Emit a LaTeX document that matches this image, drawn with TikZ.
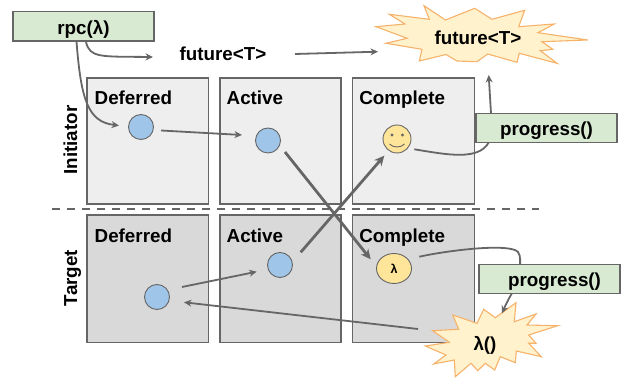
\documentclass[tikz,border=0pt]{standalone}
\usepackage{fontspec}
\setmainfont{Liberation Sans}
\usetikzlibrary{arrows.meta,shapes.geometric}
\definecolor{edge}{HTML}{666666}
\definecolor{topfill}{HTML}{EEEEEE}
\definecolor{botfill}{HTML}{D9D9D9}
\definecolor{greenfill}{HTML}{D9EAD3}
\definecolor{bluefill}{HTML}{9FC5E8}
\definecolor{yellowfill}{HTML}{FFE599}
\definecolor{starfill}{HTML}{FFF2CC}
\definecolor{starline}{HTML}{F6B26B}
\tikzset{
  lab/.style={font=\fontsize{18.8}{20}\selectfont\bfseries, inner sep=0pt, anchor=base, text=black},
  statelab/.style={lab, anchor=base west},
  sidelab/.style={lab, rotate=90},
  cellbox/.style={draw=edge, line width=1.1pt},
  topcell/.style={cellbox, fill=topfill},
  botcell/.style={cellbox, fill=botfill},
  callbox/.style={lab, draw=edge, line width=1.1pt, fill=greenfill, minimum width=141pt, text height=22.5pt, text depth=6.8pt},
  dot/.style={circle, draw=edge, line width=0.9pt, fill=bluefill, minimum size=25pt, inner sep=0pt},
  burst/.style={draw=starline, line width=1.1pt, fill=starfill, line join=miter},
  conn/.style={draw=edge, line width=1.8pt, -{Stealth[length=7.5pt,width=7pt]}},
  heavyconn/.style={draw=edge, line width=2.8pt, -{Stealth[length=10pt,width=9.5pt]}},
}
\begin{document}
\begin{tikzpicture}[x=1pt,y=-1pt]
\useasboundingbox (0,0) rectangle (624,379);
% state boxes
\draw[topcell] (87,78) rectangle (208.5,204);
\draw[topcell] (220,78) rectangle (341,204);
\draw[topcell] (352.7,78) rectangle (474.7,204);
\draw[botcell] (87,215) rectangle (208.5,342.5);
\draw[botcell] (220,215) rectangle (341,342.5);
\draw[botcell] (352.7,215) rectangle (474.7,342.5);
% separator
\coordinate (sepL) at (52,209);
\coordinate (sepR) at (539,209);
\draw[edge, line width=1.4pt, dash pattern=on 7.5pt off 7.5pt] (sepL) -- (sepR);
% labels
\node[statelab] (l1) at (94.5,104.7) {Deferred};
\node[statelab] (l2) at (226.5,104.7) {Active};
\node[statelab] (l3) at (359.2,104.7) {Complete};
\node[statelab] (l4) at (94.5,242.7) {Deferred};
\node[statelab] (l5) at (226.5,242.7) {Active};
\node[statelab] (l6) at (359.2,242.7) {Complete};
\node[sidelab] (ini) at (77,140) {Initiator};
\node[sidelab] (tar) at (77,278) {Target};
% state markers
\node[dot] (d1) at (141,127) {};
\node[dot] (a1) at (268,140.5) {};
\node[dot, fill=yellowfill, minimum size=28pt] (smile) at (397,139) {};
\fill[edge] ([shift={(-5,-4)}]smile.center) circle (1.7pt) ([shift={(5.5,-4)}]smile.center) circle (1.7pt);
\draw[edge, line width=0.9pt] ([shift={(-7.5,5)}]smile.center) .. controls ([shift={(-4,9)}]smile.center) and ([shift={(4,9)}]smile.center) .. ([shift={(7.5,5)}]smile.center);
\node[dot] (d2) at (157,297) {};
\node[dot] (a2) at (280,265) {};
\node[ellipse, draw=edge, line width=0.9pt, fill=yellowfill, minimum width=35pt, minimum height=30pt, inner sep=0pt, font=\fontsize{12.5}{14}\selectfont\bfseries] (lam) at (394,268.5) {λ};
% bursts
\draw[burst] (376,26.7)--(405,24)--(389.3,14.3)--(429.3,19.3)--(424,5.7)--(445.5,20)--(474.7,8.3)--(492,19.3)--(524.7,10.3)--(518.7,26.7)--(554.3,24)--(538,32.7)--(587.7,40)--(542,41.7)--(552.7,49.3)--(540.3,50.7)--(557,63.3)--(519.3,53.3)--(517,62.3)--(487.7,54)--(477,61.7)--(457,61)--(446,54.5)--(419.3,61)--(422,49.3)--(386,43.3)--(407,38.3)--cycle;
\draw[burst] (425.3,346)--(449.3,342.3)--(432.7,330.7)--(458.7,329.3)--(452.7,315)--(477,323.3)--(483.7,309.3)--(495.3,317.7)--(516,302.7)--(514.3,321.7)--(536,314)--(527,325)--(557.7,325.7)--(528.7,335)--(536,343.3)--(528.7,343.3)--(541.3,356.7)--(516.3,351)--(515.3,362.7)--(500.3,356.7)--(494.7,370)--(485.3,363.3)--(477.7,370.7)--(471,363.3)--(455.3,376.7)--(454.3,360)--(433.7,364)--(446,355)--cycle;
\node[lab] (fut2) at (478,44.7) {future<T>};
\node[lab] (lamcall) at (485,351) {λ()};
\node[lab] (fut1) at (223,60.5) {future<T>};
% connectors passing behind the green boxes
\draw[conn] ([shift={(17.3,10.3)}]smile.center) .. controls (450,155) and (490,164) .. (492,130) -- ([shift={(10.7,30.3)}]fut2.base);
\draw[conn] ([shift={(25.3,-11.8)}]lam.center) .. controls (450,250) and (510,243) .. (518,252) .. controls (521,256) and (520,262) .. (520,270) .. controls (520,285) and (512,290) .. ([shift={(17,-37.7)}]lamcall.base);
% green call boxes
\node[callbox] (rpc) at (83.5,34.2) {rpc(λ)};
\node[callbox] (prog1) at (546.5,135.7) {progress()};
\node[callbox] (prog2) at (549.5,286.7) {\hspace*{10pt}progress()};
% connectors
\draw[conn] ([shift={(-7,15)}]rpc.center) .. controls (81,100) and (88,122) .. ([shift={(-22,-1.5)}]d1.center);
\draw[conn] ([shift={(2.5,15.7)}]rpc.center) .. controls (90,58) and (100,56.5) .. ([shift={(-70,-3.5)}]fut1.base);
\draw[conn] ([shift={(20,3.5)}]d1.center) -- ([shift={(-26,-5.5)}]a1.center);
\draw[conn] ([shift={(72,-6.5)}]fut1.base) -- ([shift={(-100,7)}]fut2.base);
\draw[heavyconn] ([shift={(17,11.5)}]a1.center) -- ([shift={(-23.3,-9.2)}]lam.center);
\draw[heavyconn] ([shift={(20.7,-12.7)}]a2.center) -- ([shift={(-12.7,16.7)}]smile.center);
\draw[conn] ([shift={(25,-10)}]d2.center) -- ([shift={(-23.3,6.7)}]a2.center);
\draw[conn] ([shift={(-67,-22)}]lamcall.base) -- ([shift={(27,5.3)}]d2.center);
\end{tikzpicture}
\end{document}
